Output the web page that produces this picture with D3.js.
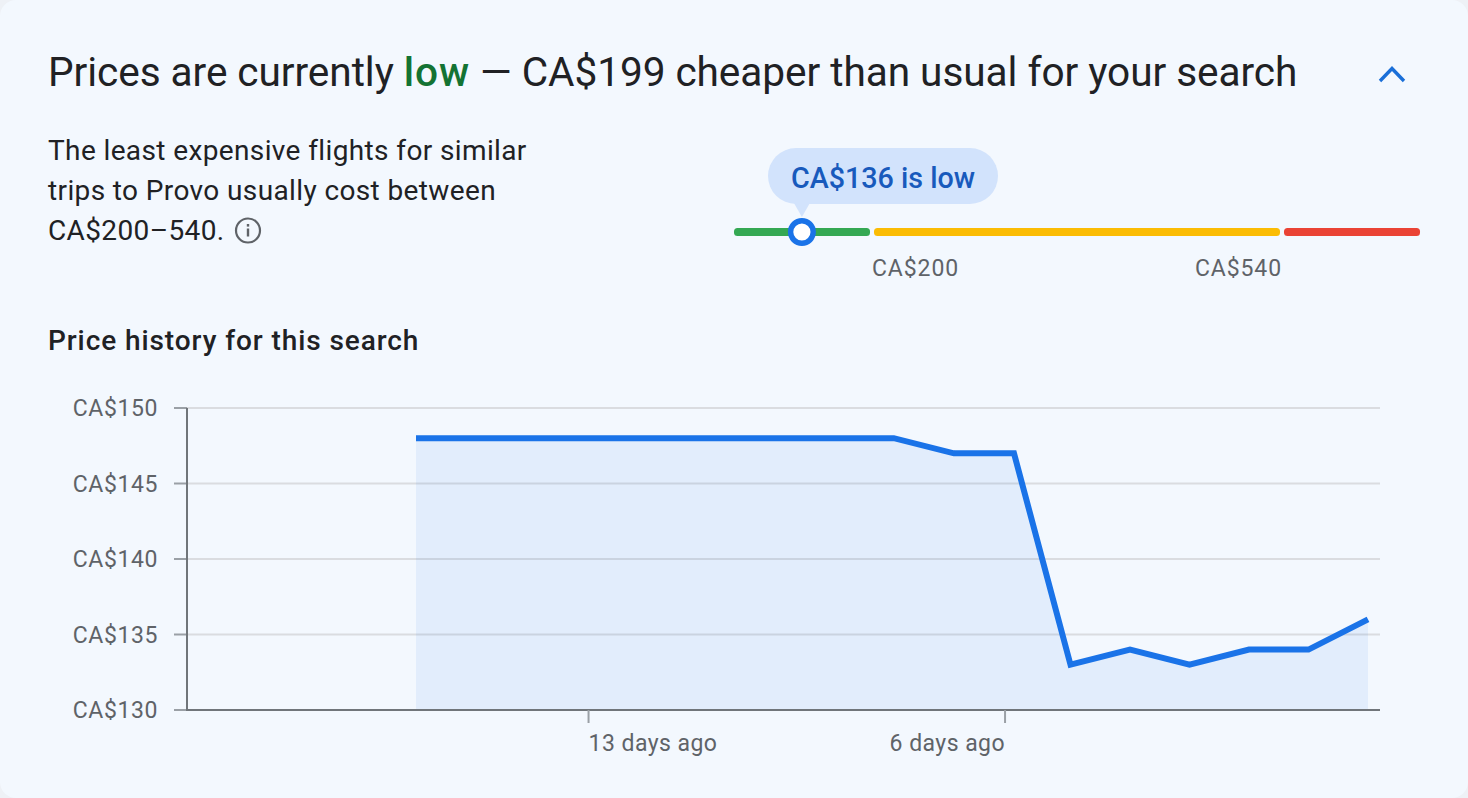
<!DOCTYPE html>
<html><head><meta charset="utf-8">
<script src="https://cdn.jsdelivr.net/npm/d3@7"></script>
<style>html,body{margin:0;padding:0;background:#eef1f6}svg{display:block}text{font-family:Roboto,sans-serif}</style>
</head><body><svg id="c" width="1468" height="798"></svg>
<script>
const daysAgo=[15.9,14.9,13.9,12.9,11.9,10.9,9.9,8.9,7.87,6.86,5.85,4.9,3.9,2.9,1.9,0.9,-0.1];
const prices=[148,148,148,148,148,148,148,148,148,147,147,133,134,133,134,134,136];
const priceTicks=[130,135,140,145,150];
const dayTicks=[13,6];
const dayLabels=["13 days ago","6 days ago"];
const bandStops=[74,200,540,654];
const bandColors=["#34a853","#fbbc04","#ea4335"];
const bandLabels=[200,540];
const currentPrice=136;
const bodyLines=["The least expensive flights for similar","trips to Provo usually cost between","CA$200–540."];

const svg=d3.select("#c");
const fmt=v=>"CA$"+v;
svg.append("rect").attr("width",1468).attr("height",798).attr("rx",16).attr("fill","#f3f8fe");

// header
const title=svg.append("text").attr("x",48).attr("y",86).attr("font-size",40.6).attr("fill","#202124").attr("letter-spacing",-0.06);
title.append("tspan").text("Prices are currently ");
title.append("tspan").attr("fill","#137333").attr("font-weight",500).attr("letter-spacing",0.9).text("low");
title.append("tspan").text(" — CA$199 cheaper than usual for your search");
svg.append("path").attr("d",d3.line()([[1380,81],[1392,68.5],[1404,81]])).attr("fill","none").attr("stroke","#1a6fd8").attr("stroke-width",3.4);

// body
svg.selectAll(".b").data(bodyLines).join("text").attr("class","b").attr("x",48).attr("y",(d,i)=>159.5+i*40.3)
  .attr("font-size",28).attr("letter-spacing",0.38).attr("fill","#202124").text(d=>d);
const info=svg.append("g").attr("transform","translate(248,230.5)");
info.append("circle").attr("r",12).attr("fill","none").attr("stroke","#5f6368").attr("stroke-width",2.2);
info.append("rect").attr("x",-1.2).attr("y",-2).attr("width",2.4).attr("height",8).attr("fill","#5f6368");
info.append("rect").attr("x",-1.2).attr("y",-6.5).attr("width",2.4).attr("height",2.6).attr("fill","#5f6368");

// gauge
const g=d3.scaleLinear().domain(bandStops).range([734,872,1282,1420]);
const gy=232,gap=2;
bandColors.forEach((c,i)=>{
  const x0=g(bandStops[i])+(i?gap:0),x1=g(bandStops[i+1])-(i<2?gap:0);
  svg.append("rect").attr("x",x0).attr("y",gy-4).attr("width",x1-x0).attr("height",8).attr("rx",3.5).attr("fill",c);
});
svg.selectAll(".bl").data(bandLabels).join("text").attr("class","bl").attr("x",d=>g(d)).attr("y",276)
  .attr("text-anchor",d=>d==200?"start":"end").attr("font-size",23).attr("fill","#5f6368").attr("letter-spacing",0.9).text(fmt);
const mx=g(currentPrice);
svg.append("rect").attr("x",768).attr("y",148).attr("width",230).attr("height",56).attr("rx",28).attr("fill","#d2e3fc");
svg.append("path").attr("d",d3.line()([[mx-8,203],[mx+8,203],[mx,217]])).attr("fill","#d2e3fc");
svg.append("text").attr("x",883).attr("y",188).attr("text-anchor","middle").attr("font-size",28.7).attr("font-weight",500).attr("fill","#185abc").text(fmt(currentPrice)+" is low");
svg.append("circle").attr("cx",mx).attr("cy",gy).attr("r",11.3).attr("fill","#fff").attr("stroke","#1a73e8").attr("stroke-width",5.4);

svg.append("text").attr("x",48).attr("y",350).attr("font-size",28).attr("font-weight",500).attr("letter-spacing",0.92).attr("fill","#202124").text("Price history for this search");

// chart
const x=d3.scaleLinear().domain([15.9,-0.1]).range([416,1368]);
const y=d3.scaleLinear().domain([130,150]).range([710,408]);
const L=187,R=1380;
svg.selectAll(".gr").data(priceTicks).join("line").attr("class","gr").attr("x1",L).attr("x2",R).attr("y1",y).attr("y2",y).attr("stroke","#dadce0").attr("stroke-width",2);
const pts=daysAgo.map((d,i)=>[d,prices[i]]);
svg.append("path").attr("d",d3.area().x(d=>x(d[0])).y0(y(130)).y1(d=>y(d[1]))(pts)).attr("fill","#1a73e8").attr("fill-opacity",0.08);
svg.append("path").attr("d",d3.line().x(d=>x(d[0])).y(d=>y(d[1]))(pts)).attr("fill","none").attr("stroke","#1a73e8").attr("stroke-width",6);
svg.selectAll(".yt").data(priceTicks).join("line").attr("class","yt").attr("x1",174).attr("x2",L).attr("y1",y).attr("y2",y).attr("stroke","#9aa0a6").attr("stroke-width",2);
svg.selectAll(".yl").data(priceTicks).join("text").attr("class","yl").attr("x",158).attr("y",d=>y(d)+8).attr("text-anchor","end").attr("font-size",23).attr("fill","#5f6368").attr("letter-spacing",0.6).text(fmt);
svg.append("line").attr("x1",L).attr("x2",L).attr("y1",y(150)).attr("y2",y(130)+1).attr("stroke","#70757a").attr("stroke-width",2);
svg.append("line").attr("x1",L).attr("x2",R).attr("y1",y(130)).attr("y2",y(130)).attr("stroke","#70757a").attr("stroke-width",2);
svg.selectAll(".xt").data(dayTicks).join("line").attr("class","xt").attr("x1",x).attr("x2",x).attr("y1",y(130)).attr("y2",y(130)+13).attr("stroke","#9aa0a6").attr("stroke-width",2);
svg.selectAll(".xl").data(dayTicks).join("text").attr("class","xl").attr("x",x).attr("y",751)
  .attr("text-anchor",(d,i)=>i?"end":"start").attr("font-size",23).attr("fill","#5f6368").attr("letter-spacing",0.45).text((d,i)=>dayLabels[i]);
</script></body></html>
